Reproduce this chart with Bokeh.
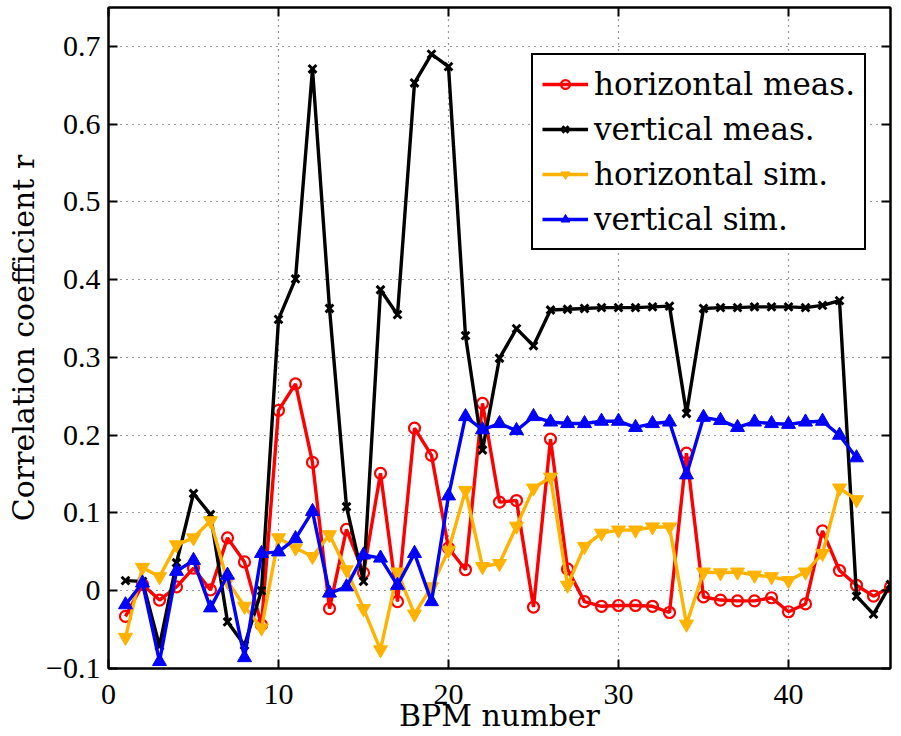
from bokeh.plotting import figure
from bokeh.models import LinearAxis, Range1d, Legend, LegendItem, FixedTicker, CustomJSTickFormatter
from bokeh.embed import file_html
from bokeh.resources import INLINE

bpm = list(range(1, 47))
horiz_meas = [-0.033, 0.008, -0.012, 0.005, 0.029, 0.001, 0.068, 0.037, -0.044, 0.232,
              0.266, 0.165, -0.023, 0.079, 0.023, 0.151, -0.014, 0.209, 0.174, 0.055,
              0.027, 0.241, 0.114, 0.116, -0.021, 0.195, 0.028, -0.014, -0.020, -0.019,
              -0.019, -0.020, -0.028, 0.177, -0.008, -0.012, -0.013, -0.013, -0.009, -0.027,
              -0.017, 0.077, 0.026, 0.007, -0.007, 0.005]
vert_meas = [0.013, 0.012, -0.071, 0.036, 0.125, 0.098, -0.040, -0.070, 0.000, 0.349,
             0.401, 0.671, 0.363, 0.108, 0.012, 0.387, 0.355, 0.653, 0.690, 0.674,
             0.328, 0.181, 0.299, 0.337, 0.315, 0.361, 0.362, 0.363, 0.364, 0.364,
             0.364, 0.365, 0.366, 0.228, 0.363, 0.364, 0.364, 0.365, 0.365, 0.365,
             0.364, 0.367, 0.373, -0.007, -0.030, 0.008]
bpm_sim = list(range(1, 45))
horiz_sim = [-0.060, 0.030, 0.018, 0.059, 0.068, 0.090, 0.012, -0.020, -0.048, 0.068,
             0.055, 0.044, 0.072, 0.027, -0.023, -0.076, 0.024, -0.030, 0.005, 0.052,
             0.129, 0.031, 0.035, 0.083, 0.132, 0.146, 0.007, 0.057, 0.074, 0.078,
             0.078, 0.082, 0.082, -0.043, 0.024, 0.023, 0.024, 0.020, 0.018, 0.013,
             0.024, 0.048, 0.132, 0.117]
vert_sim = [-0.018, 0.010, -0.091, 0.025, 0.039, -0.022, 0.020, -0.086, 0.048, 0.050,
            0.067, 0.102, -0.003, 0.005, 0.046, 0.042, 0.007, 0.048, -0.014, 0.122,
            0.224, 0.207, 0.215, 0.206, 0.224, 0.217, 0.215, 0.215, 0.218, 0.218,
            0.210, 0.215, 0.217, 0.149, 0.223, 0.219, 0.210, 0.217, 0.215, 0.214,
            0.217, 0.218, 0.200, 0.171]
x_ticks = [0, 10, 20, 30, 40]
y_ticks = [-0.1, 0, 0.1, 0.2, 0.3, 0.4, 0.5, 0.6, 0.7]

TICK_FONT = "Liberation Serif"
TEXT_FONT = "DejaVu Serif"
RED = "#FF0000"
BLACK = "#000000"
ORANGE = "#FFB300"
BLUE = "#0000FF"

p = figure(width=896, height=736, output_backend="svg", toolbar_location=None,
           x_range=Range1d(0, 46), y_range=Range1d(-0.1, 0.75),
           min_border_left=108, min_border_right=6, min_border_top=7, min_border_bottom=68)
p.outline_line_color = "black"
p.outline_line_width = 2
p.outline_line_alpha = 1
p.background_fill_color = "white"
p.border_fill_color = "white"

fmt = CustomJSTickFormatter(code="""
if (Math.abs(tick) < 1e-9) return '0';
var s = Math.abs(tick);
var t = (Math.abs(s - Math.round(s)) < 1e-9) ? String(Math.round(s)) : s.toFixed(1);
return (tick < 0 ? '\u2212' : '') + t;
""")
blank = CustomJSTickFormatter(code="return '';")

for ax in p.xaxis + p.yaxis:
    ax.major_tick_in = 9
    ax.major_tick_out = 0
    ax.minor_tick_line_color = None
    ax.axis_line_width = 2
    ax.major_tick_line_width = 2
    ax.major_label_text_font = TICK_FONT
    ax.major_label_text_font_size = "30px"
    ax.major_label_text_color = "black"
    ax.axis_label_text_font = TEXT_FONT
    ax.axis_label_text_font_style = "normal"
    ax.axis_label_text_color = "black"
    ax.formatter = fmt
p.xaxis.ticker = FixedTicker(ticks=x_ticks)
p.yaxis.ticker = FixedTicker(ticks=y_ticks)
p.xaxis.axis_label = "BPM number"
p.yaxis.axis_label = "Correlation coefficient r"
p.xaxis.axis_label_text_font_size = "30px"
p.yaxis.axis_label_text_font_size = "30px"
p.xaxis.major_label_standoff = 16
p.yaxis.major_label_standoff = 8
p.xaxis.axis_label_standoff = -9
p.yaxis.axis_label_standoff = 2

for loc, tk in (("right", y_ticks), ("above", x_ticks)):
    ax = LinearAxis(ticker=FixedTicker(ticks=tk), formatter=blank,
                    major_tick_in=9, major_tick_out=0, minor_tick_line_color=None,
                    axis_line_width=2, major_tick_line_width=2, major_label_standoff=0)
    p.add_layout(ax, loc)

p.xgrid.ticker = FixedTicker(ticks=x_ticks)
p.ygrid.ticker = FixedTicker(ticks=y_ticks)
for g in (p.xgrid, p.ygrid):
    g.grid_line_color = "#333333"
    g.grid_line_dash = "1 5"
    g.grid_line_width = 1.2

LW = 3.4
r1l = p.line(bpm, horiz_meas, line_color=RED, line_width=LW)
r1m = p.scatter(bpm, horiz_meas, marker="circle", size=11, fill_color=None, line_color=RED, line_width=2.2)
r2l = p.line(bpm, vert_meas, line_color=BLACK, line_width=LW)
r2m = p.scatter(bpm, vert_meas, marker="x", size=11, line_color=BLACK, line_width=3)
r3l = p.line(bpm_sim, horiz_sim, line_color=ORANGE, line_width=LW)
r3m = p.scatter(bpm_sim, horiz_sim, marker="inverted_triangle", size=14, fill_color=ORANGE, line_color=ORANGE)
r4l = p.line(bpm_sim, vert_sim, line_color=BLUE, line_width=LW)
r4m = p.scatter(bpm_sim, vert_sim, marker="triangle", size=14, fill_color=BLUE, line_color=BLUE)

legend = Legend(items=[
    LegendItem(label="horizontal meas.", renderers=[r1l, r1m]),
    LegendItem(label="vertical meas.", renderers=[r2l, r2m]),
    LegendItem(label="horizontal sim.", renderers=[r3l, r3m]),
    LegendItem(label="vertical sim.", renderers=[r4l, r4m]),
], location=(423, 418))
legend.label_text_font = TEXT_FONT
legend.label_text_font_size = "31px"
legend.label_text_color = "black"
legend.glyph_width = 46
legend.glyph_height = 22
legend.label_height = 40
legend.spacing = 5
legend.padding = 9
legend.margin = 0
legend.label_standoff = 6
legend.border_line_color = "black"
legend.border_line_width = 2.5
legend.border_line_alpha = 1
legend.background_fill_color = "white"
legend.background_fill_alpha = 1
p.add_layout(legend, "center")

open("out.html", "w").write(file_html(p, INLINE))
